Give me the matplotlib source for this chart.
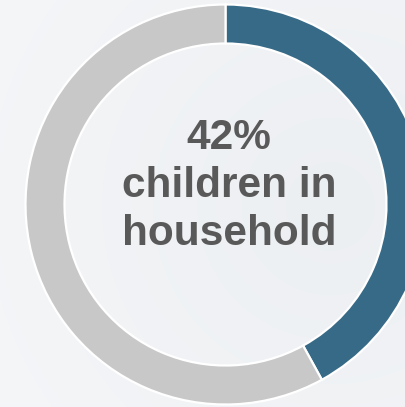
import matplotlib.pyplot as plt
import numpy as np

# Share of households with children
labels = ['With children', 'Without children']
values = [42, 58]
colors = ['#376a87', '#c8c8c8']
center_text = '42%\nchildren in\nhousehold'

W, H = 406, 407
fig = plt.figure(figsize=(W / 100, H / 100), dpi=100)
ax = fig.add_axes([0, 0, 1, 1])
ax.set_xlim(0, W)
ax.set_ylim(0, H)
ax.set_aspect('equal')
ax.axis('off')

# soft background gradient
yy, xx = np.mgrid[0:H, 0:W]
d = np.hypot(xx - 330, yy - 200) / 400.0
grad = np.clip(d, 0, 1)
c_in = np.array([236, 239, 242]) / 255
c_out = np.array([245, 246, 248]) / 255
img = c_in + (c_out - c_in) * grad[..., None]
ax.imshow(img, extent=[0, W, 0, H], origin='lower', zorder=0)

ax.pie(values, colors=colors, startangle=90, counterclock=False,
       center=(225.5, H - 204.5), radius=200,
       wedgeprops=dict(width=39, edgecolor='white', linewidth=1.6))
ax.set_xlim(0, W)
ax.set_ylim(0, H)

ax.text(229, H - 186, center_text, ha='center', va='center',
        fontsize=30.5, fontweight='bold', color='#595959',
        family=['Liberation Sans', 'DejaVu Sans'], linespacing=1.27)

fig.savefig('out.png', dpi=100)
